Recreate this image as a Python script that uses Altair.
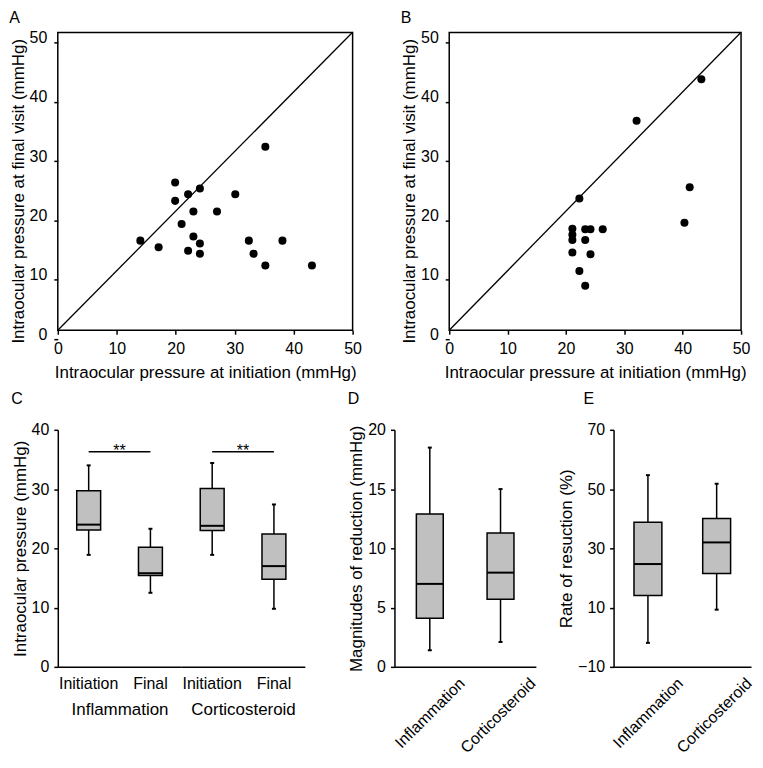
import altair as alt
import pandas as pd

FONT = "Liberation Sans"

# ---------------- Panel A (scatter) ----------------
a_initiation = [14.0, 17.1, 19.9, 19.9, 21.0, 22.1, 22.1, 23.0, 23.0, 24.1,
                24.1, 24.1, 27.0, 30.1, 32.4, 33.2, 35.2, 35.2, 38.1, 43.1]
a_final = [16.6, 15.5, 26.4, 23.3, 19.4, 24.4, 14.9, 21.5, 17.3, 25.4,
           16.1, 14.4, 21.5, 24.4, 16.6, 14.4, 32.4, 12.4, 16.6, 12.4]

# ---------------- Panel B (scatter) ----------------
b_initiation = [43.2, 32.1, 41.2, 40.3, 22.3, 21.1, 21.1, 21.1, 21.1, 23.3,
                24.2, 26.3, 23.3, 24.2, 22.3, 23.3]
b_final = [43.8, 36.8, 25.6, 19.6, 23.7, 18.6, 17.6, 16.7, 14.6, 18.5,
           18.5, 18.5, 16.7, 14.3, 11.5, 9.0]

scatter_ticks = [0, 10, 20, 30, 40, 50]
equality_x = [0, 50]
equality_y = [1.5, 51.7]

# ---------------- Panel C (box plots) ----------------
c_groups = ["Inflammation", "Inflammation", "Corticosteroid", "Corticosteroid"]
c_phases = ["Initiation", "Final", "Initiation", "Final"]
c_lower = [18.9, 12.5, 18.9, 9.8]
c_q1 = [23.1, 15.4, 23.0, 14.8]
c_median = [24.0, 15.8, 23.8, 17.0]
c_q3 = [29.7, 20.2, 30.1, 22.4]
c_upper = [34.0, 23.3, 34.4, 27.4]
c_sig_y = [36.3, 36.3]
c_sig_label = ["**", "**"]
c_ticks = [0, 10, 20, 30, 40]

# ---------------- Panel D ----------------
d_groups = ["Inflammation", "Corticosteroid"]
d_lower = [1.4, 2.1]
d_q1 = [4.1, 5.7]
d_median = [7.0, 7.95]
d_q3 = [12.9, 11.3]
d_upper = [18.5, 15.0]
d_ticks = [0, 5, 10, 15, 20]

# ---------------- Panel E ----------------
e_groups = ["Inflammation", "Corticosteroid"]
e_lower = [-1.9, 9.3]
e_q1 = [14.1, 21.5]
e_median = [24.7, 32.0]
e_q3 = [38.8, 40.1]
e_upper = [54.7, 51.8]
e_ticks = [-10, 10, 30, 50, 70]

BOX_FILL = "#c0c0c0"
INK = "#000000"


def letter(text, dx=0, offset=6):
    return alt.TitleParams(text, anchor="start", frame="bounds", fontSize=16,
                           fontWeight="normal", font=FONT, color=INK,
                           offset=offset, dx=dx)


def scatter(xs, ys, tag, width):
    pts = pd.DataFrame({"x": xs, "y": ys})
    diag = pd.DataFrame({"x": equality_x, "y": equality_y})
    xsc = alt.Scale(domain=[0, 50], nice=False, zero=False)
    ysc = alt.Scale(domain=[0, 50], range=[308, 10], nice=False, zero=False)
    xax = alt.Axis(values=scatter_ticks, title="Intraocular pressure at initiation (mmHg)",
                   domain=False, labelFlush=False, tickSize=4, labelPadding=6,
                   titlePadding=8)
    yax = alt.Axis(values=scatter_ticks, title="Intraocular pressure at final visit (mmHg)",
                   domain=False, tickSize=4, labelPadding=7, titlePadding=2,
                   labelOffset=-5)
    line = alt.Chart(diag).mark_line(color=INK, strokeWidth=1.3).encode(
        x=alt.X("x:Q", scale=xsc, axis=xax),
        y=alt.Y("y:Q", scale=ysc, axis=yax),
    )
    dots = alt.Chart(pts).mark_circle(size=65, color=INK, opacity=1).encode(
        x=alt.X("x:Q", scale=xsc, axis=xax),
        y=alt.Y("y:Q", scale=ysc, axis=yax),
    )
    return alt.layer(line, dots).properties(
        width=width, height=299, title=letter(tag, offset=3),
        view=alt.ViewBackground(stroke=INK, strokeWidth=1.5),
    )


def box_layers(df, cat, order, width, box_size, yscale, yaxis, xaxis):
    xsc = alt.Scale(domain=order, paddingInner=0, paddingOuter=0)
    x = alt.X(f"{cat}:N", scale=xsc, axis=xaxis, sort=order)
    base = alt.Chart(df)
    whisker = base.mark_rule(color=INK, strokeWidth=1.5).encode(
        x=x, y=alt.Y("lower:Q", scale=yscale, axis=yaxis), y2="upper:Q")
    cap_lo = base.mark_tick(size=4, thickness=2, color=INK, opacity=1).encode(
        x=x, y=alt.Y("lower:Q", scale=yscale, axis=yaxis))
    cap_hi = base.mark_tick(size=4, thickness=2, color=INK, opacity=1).encode(
        x=x, y=alt.Y("upper:Q", scale=yscale, axis=yaxis))
    box = base.mark_bar(size=box_size, color=BOX_FILL, stroke=INK,
                        strokeWidth=1.5).encode(
        x=x, y=alt.Y("q1:Q", scale=yscale, axis=yaxis), y2="q3:Q")
    med = base.mark_tick(size=box_size, thickness=2, color=INK, opacity=1).encode(
        x=x, y=alt.Y("median:Q", scale=yscale, axis=yaxis))
    return [whisker, cap_lo, cap_hi, box, med], xsc


# ---- C: two halves sharing the y scale ----
c_df = pd.DataFrame({"group": c_groups, "phase": c_phases, "lower": c_lower,
                     "q1": c_q1, "median": c_median, "q3": c_q3, "upper": c_upper})
c_yscale = alt.Scale(domain=[0, 40], nice=False, zero=False)
c_halves = []
for gi, g in enumerate(["Inflammation", "Corticosteroid"]):
    sub = c_df[c_df["group"] == g]
    if gi == 0:
        yax = alt.Axis(values=c_ticks, title="Intraocular pressure (mmHg)",
                       tickSize=4, labelPadding=5, titlePadding=2)
    else:
        yax = None
    xax = alt.Axis(title=g, ticks=False, labelAngle=0, labelPadding=9,
                   titlePadding=10)
    layers, xsc = box_layers(sub, "phase", ["Initiation", "Final"], 124, 24,
                             c_yscale, yax, xax)
    sig = pd.DataFrame({"start": ["Initiation"], "end": ["Final"],
                        "y": [c_sig_y[gi]], "label": [c_sig_label[gi]]})
    sig_rule = alt.Chart(sig).mark_rule(color=INK, strokeWidth=1.5).encode(
        x=alt.X("start:N", scale=xsc, axis=xax, bandPosition=0.5),
        x2=alt.X2("end:N", bandPosition=0.5),
        y=alt.Y("y:Q", scale=c_yscale, axis=yax),
    )
    sig_text = alt.Chart(sig).mark_text(font=FONT, fontSize=16, color=INK,
                                        baseline="alphabetic", dy=4).encode(
        x=alt.X("end:N", scale=xsc, axis=xax, bandPosition=0),
        y=alt.Y("y:Q", scale=c_yscale, axis=yax),
        text="label:N",
    )
    props = dict(width=124, height=238)
    if gi == 0:
        props["title"] = letter("C", offset=15)
    c_halves.append(alt.layer(*layers, sig_rule, sig_text).properties(**props))
panel_c = alt.hconcat(*c_halves, spacing=0)


def simple_box(groups, lo, q1, med, q3, hi, domain, ticks, ytitle, tag, width, box_size, dx):
    df = pd.DataFrame({"group": groups, "lower": lo, "q1": q1, "median": med,
                       "q3": q3, "upper": hi})
    ysc = alt.Scale(domain=domain, nice=False, zero=False)
    yax = alt.Axis(values=ticks, title=ytitle, tickSize=4, labelPadding=5,
                   titlePadding=2)
    xax = alt.Axis(title=None, ticks=False, labelAngle=-45, labelAlign="right",
                   labelBaseline="top", labelOffset=27, labelPadding=8)
    layers, _ = box_layers(df, "group", groups, width, box_size, ysc, yax, xax)
    return alt.layer(*layers).properties(width=width, height=238,
                                         title=letter(tag, dx=dx, offset=15))


panel_d = simple_box(d_groups, d_lower, d_q1, d_median, d_q3, d_upper, [0, 20],
                     d_ticks, "Magnitudes of  reduction (mmHg)", "D", 142, 27, 0)
panel_e = simple_box(e_groups, e_lower, e_q1, e_median, e_q3, e_upper, [-10, 70],
                     e_ticks, "Rate of resuction (%)", "E", 138, 28, 26)

row1 = alt.hconcat(scatter(a_initiation, a_final, "A", 296),
                   scatter(b_initiation, b_final, "B", 293), spacing=37)
row2 = alt.hconcat(panel_c, alt.hconcat(panel_d, panel_e, spacing=18), spacing=43)

chart = alt.vconcat(row1, row2, spacing=10).properties(padding=0).configure_view(
    stroke=None
).configure_axis(
    grid=False, labelFont=FONT, titleFont=FONT, labelFontSize=16, titleFontSize=17,
    titleFontWeight="normal", labelColor=INK, titleColor=INK, domainColor=INK,
    tickColor=INK, domainWidth=1.5, tickWidth=1.5,
).configure_title(font=FONT)

chart.save("out.html", embed_options={"renderer": "svg", "actions": False})
